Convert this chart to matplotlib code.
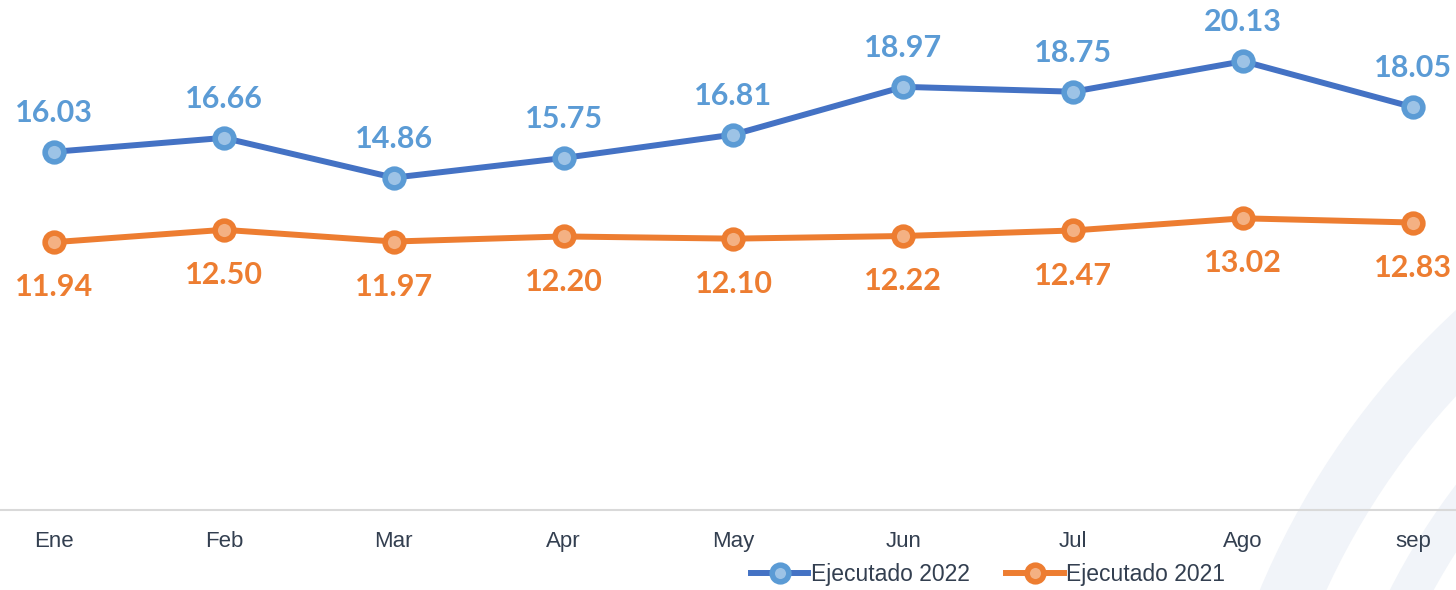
import matplotlib.pyplot as plt
from matplotlib.patches import Circle

months = ["Ene", "Feb", "Mar", "Apr", "May", "Jun", "Jul", "Ago", "sep"]
ejecutado_2022 = [16.03, 16.66, 14.86, 15.75, 16.81, 18.97, 18.75, 20.13, 18.05]
ejecutado_2021 = [11.94, 12.50, 11.97, 12.20, 12.10, 12.22, 12.47, 13.02, 12.83]

BLUE_LINE = "#4472C4"
BLUE_EDGE = "#5B9BD5"
BLUE_FACE = "#9DC3E6"
ORANGE_LINE = "#ED7D31"
ORANGE_FACE = "#F4B183"
TEXT = "#333F50"

fig = plt.figure(figsize=(14.56, 5.9), dpi=100)

# faint decorative arcs in the lower right corner
bg = fig.add_axes([0, 0, 1, 1], zorder=0)
bg.set_xlim(0, 1456)
bg.set_ylim(590, 0)
bg.axis("off")
bg.add_patch(Circle((2000, 900), 772, fill=False, lw=44, color="#F1F4F9"))
bg.add_patch(Circle((2000, 900), 665, fill=False, lw=28, color="#F1F4F9"))

ax = fig.add_axes([0, 80 / 590, 1, 510 / 590], zorder=1)
ax.patch.set_alpha(0)
x = list(range(len(months)))

ax.plot(x, ejecutado_2022, color=BLUE_LINE, lw=4.3, marker="o", ms=13.5,
        mfc=BLUE_FACE, mec=BLUE_EDGE, mew=4, label="Ejecutado 2022", zorder=3)
ax.plot(x, ejecutado_2021, color=ORANGE_LINE, lw=4.3, marker="o", ms=13.5,
        mfc=ORANGE_FACE, mec=ORANGE_LINE, mew=4, label="Ejecutado 2021", zorder=3)

for xi, v in zip(x, ejecutado_2022):
    ax.annotate(f"{v:.2f}", (xi, v), xytext=(0, 28), textcoords="offset points",
                ha="center", va="center", fontsize=22, fontweight="bold",
                color=BLUE_EDGE, family="Lato")
for xi, v in zip(x, ejecutado_2021):
    ax.annotate(f"{v:.2f}", (xi, v), xytext=(0, -32.5), textcoords="offset points",
                ha="center", va="center", fontsize=22, fontweight="bold",
                color=ORANGE_LINE, family="Lato")

ax.set_xlim(-54 / 169.9, 8 + 43 / 169.9)
ax.set_ylim(-0.18, 22.9)
ax.set_yticks([])
for side in ["top", "right", "left"]:
    ax.spines[side].set_visible(False)
ax.spines["bottom"].set_color("#D9D9D9")
ax.spines["bottom"].set_linewidth(1.5)
ax.set_xticks(x)
ax.set_xticklabels(months, fontsize=16, color=TEXT, family="Liberation Sans")
ax.tick_params(axis="x", length=0, pad=15)

leg = ax.legend(loc="center", bbox_to_anchor=(988 / 1456, -65 / 510), ncol=2,
                frameon=False, handlelength=2.5, handletextpad=0.1,
                columnspacing=1.6, prop={"family": "Liberation Sans", "size": 16.5})
for t in leg.get_texts():
    t.set_color(TEXT)
for h in leg.legend_handles:
    h.set_markersize(12)

fig.savefig("out.png", dpi=100)
